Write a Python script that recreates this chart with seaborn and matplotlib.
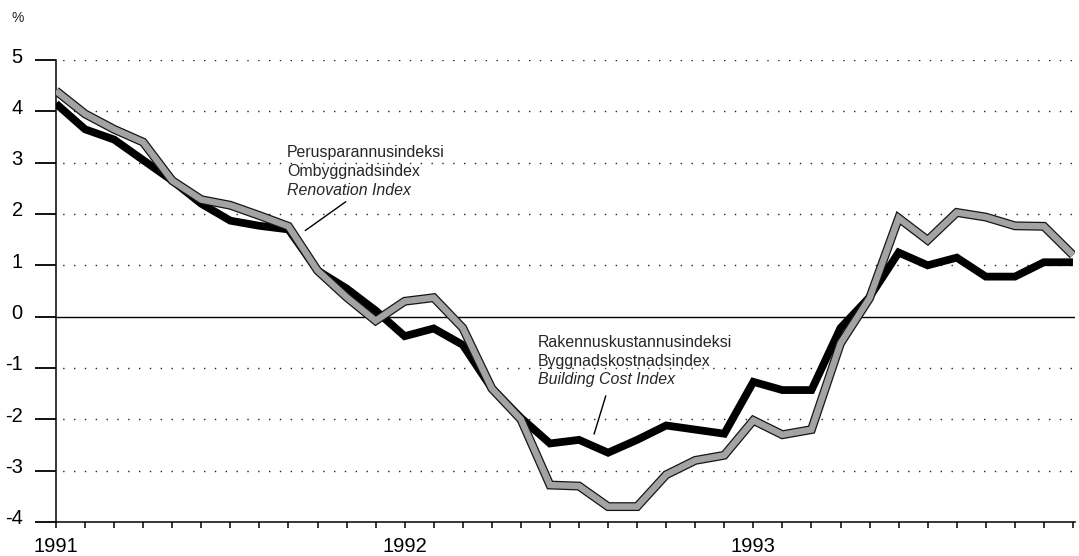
import matplotlib
matplotlib.use("Agg")
import matplotlib.pyplot as plt
import matplotlib.patheffects as pe
from matplotlib.transforms import ScaledTranslation
import pandas as pd
import seaborn as sns

# Monthly change, %, January 1991 - December 1993
months = list(range(36))
building_cost = [4.15, 3.65, 3.45, 3.05, 2.65, 2.2, 1.87, 1.77, 1.7, 0.9, 0.55, 0.12,
                 -0.38, -0.23, -0.55, -1.4, -1.97, -2.47, -2.4, -2.65, -2.4, -2.12,
                 -2.2, -2.28, -1.27, -1.43, -1.43, -0.22, 0.38, 1.25, 1.0, 1.15,
                 0.78, 0.78, 1.06, 1.06]
renovation = [4.4, 3.95, 3.65, 3.4, 2.65, 2.28, 2.17, 1.97, 1.76, 0.9, 0.38, -0.08,
              0.3, 0.37, -0.22, -1.4, -2.0, -3.28, -3.3, -3.7, -3.7, -3.08,
              -2.8, -2.7, -2.02, -2.3, -2.2, -0.52, 0.36, 1.92, 1.49, 2.03,
              1.94, 1.77, 1.76, 1.2]
year_ticks = [0, 12, 24]
year_labels = ["1991", "1992", "1993"]
y_ticks = [-4, -3, -2, -1, 0, 1, 2, 3, 4, 5]

renovation_label = ["Perusparannusindeksi", "Ombyggnadsindex", "Renovation Index"]
building_label = ["Rakennuskustannusindeksi", "Byggnadskostnadsindex", "Building Cost Index"]

sns.set_style("white")
plt.rcParams["font.family"] = ["Liberation Sans", "DejaVu Sans"]
narrow = ["Liberation Sans Narrow", "Liberation Sans", "DejaVu Sans"]

df = pd.DataFrame({"month": months, "building": building_cost, "renovation": renovation})

fig = plt.figure(figsize=(10.79, 5.56), dpi=100)
ax = fig.add_axes([56 / 1079, 34 / 556, 1019 / 1079, 462 / 556])

# dotted reference lines, solid zero line
for v in y_ticks:
    if v == 0:
        ax.axhline(v, color="black", lw=1.0, zorder=1)
    elif v != -4:
        ax.axhline(v, color="#222222", lw=1.0, linestyle=(3, (1, 6.8)), zorder=1)

sns.lineplot(data=df, x="month", y="building", ax=ax, color="black", lw=5.6,
             solid_joinstyle="miter", solid_capstyle="butt", zorder=3)
sns.lineplot(data=df, x="month", y="renovation", ax=ax, color="#a3a3a3", lw=4.6,
             solid_joinstyle="miter", solid_capstyle="butt", zorder=4,
             path_effects=[pe.Stroke(linewidth=6.4, foreground="#151515"), pe.Normal()])

ax.set_xlim(0, 35.07)
ax.set_ylim(-4, 5)
ax.set_xlabel("")
ax.set_ylabel("")

for s in ("top", "right"):
    ax.spines[s].set_visible(False)
for s in ("left", "bottom"):
    ax.spines[s].set_color("black")
    ax.spines[s].set_linewidth(1.1)

ax.set_yticks(y_ticks)
ax.set_yticklabels([str(v) for v in y_ticks])
ax.tick_params(axis="y", which="major", direction="out", length=15, width=1.3,
               pad=9, labelsize=14.5, left=True, colors="black")
lift = ScaledTranslation(0, 5 / 100, fig.dpi_scale_trans)
for lab in ax.get_yticklabels():
    lab.set_transform(lab.get_transform() + lift)

ax.set_xticks(year_ticks)
ax.set_xticklabels(year_labels)
ax.set_xticks(months, minor=True)
ax.tick_params(axis="x", which="both", direction="out", length=4, width=1.1,
               bottom=True, colors="black")
ax.tick_params(axis="x", which="major", pad=7, labelsize=14.5)

fig.text(12 / 1079, 1 - 22 / 556, "%", fontsize=10, ha="left", va="baseline")

# series labels with leader lines
base_r = [3.107, 2.737, 2.367]
for i, (t, yb) in enumerate(zip(renovation_label, base_r)):
    ax.text(7.95, yb, t, family=narrow, fontsize=11.4, va="baseline", ha="left",
            style="italic" if i == 2 else "normal", zorder=6)
ax.annotate("", xy=(8.5, 1.646), xytext=(10.05, 2.27),
            arrowprops=dict(arrowstyle="-", lw=1.0, color="black"), zorder=6)

base_b = [-0.59, -0.96, -1.31]
for i, (t, yb) in enumerate(zip(building_label, base_b)):
    ax.text(16.59, yb, t, family=narrow, fontsize=11.4, va="baseline", ha="left",
            style="italic" if i == 2 else "normal", zorder=6)
ax.annotate("", xy=(18.49, -2.34), xytext=(18.95, -1.49),
            arrowprops=dict(arrowstyle="-", lw=1.0, color="black"), zorder=6)

fig.savefig("out.png", dpi=100)
